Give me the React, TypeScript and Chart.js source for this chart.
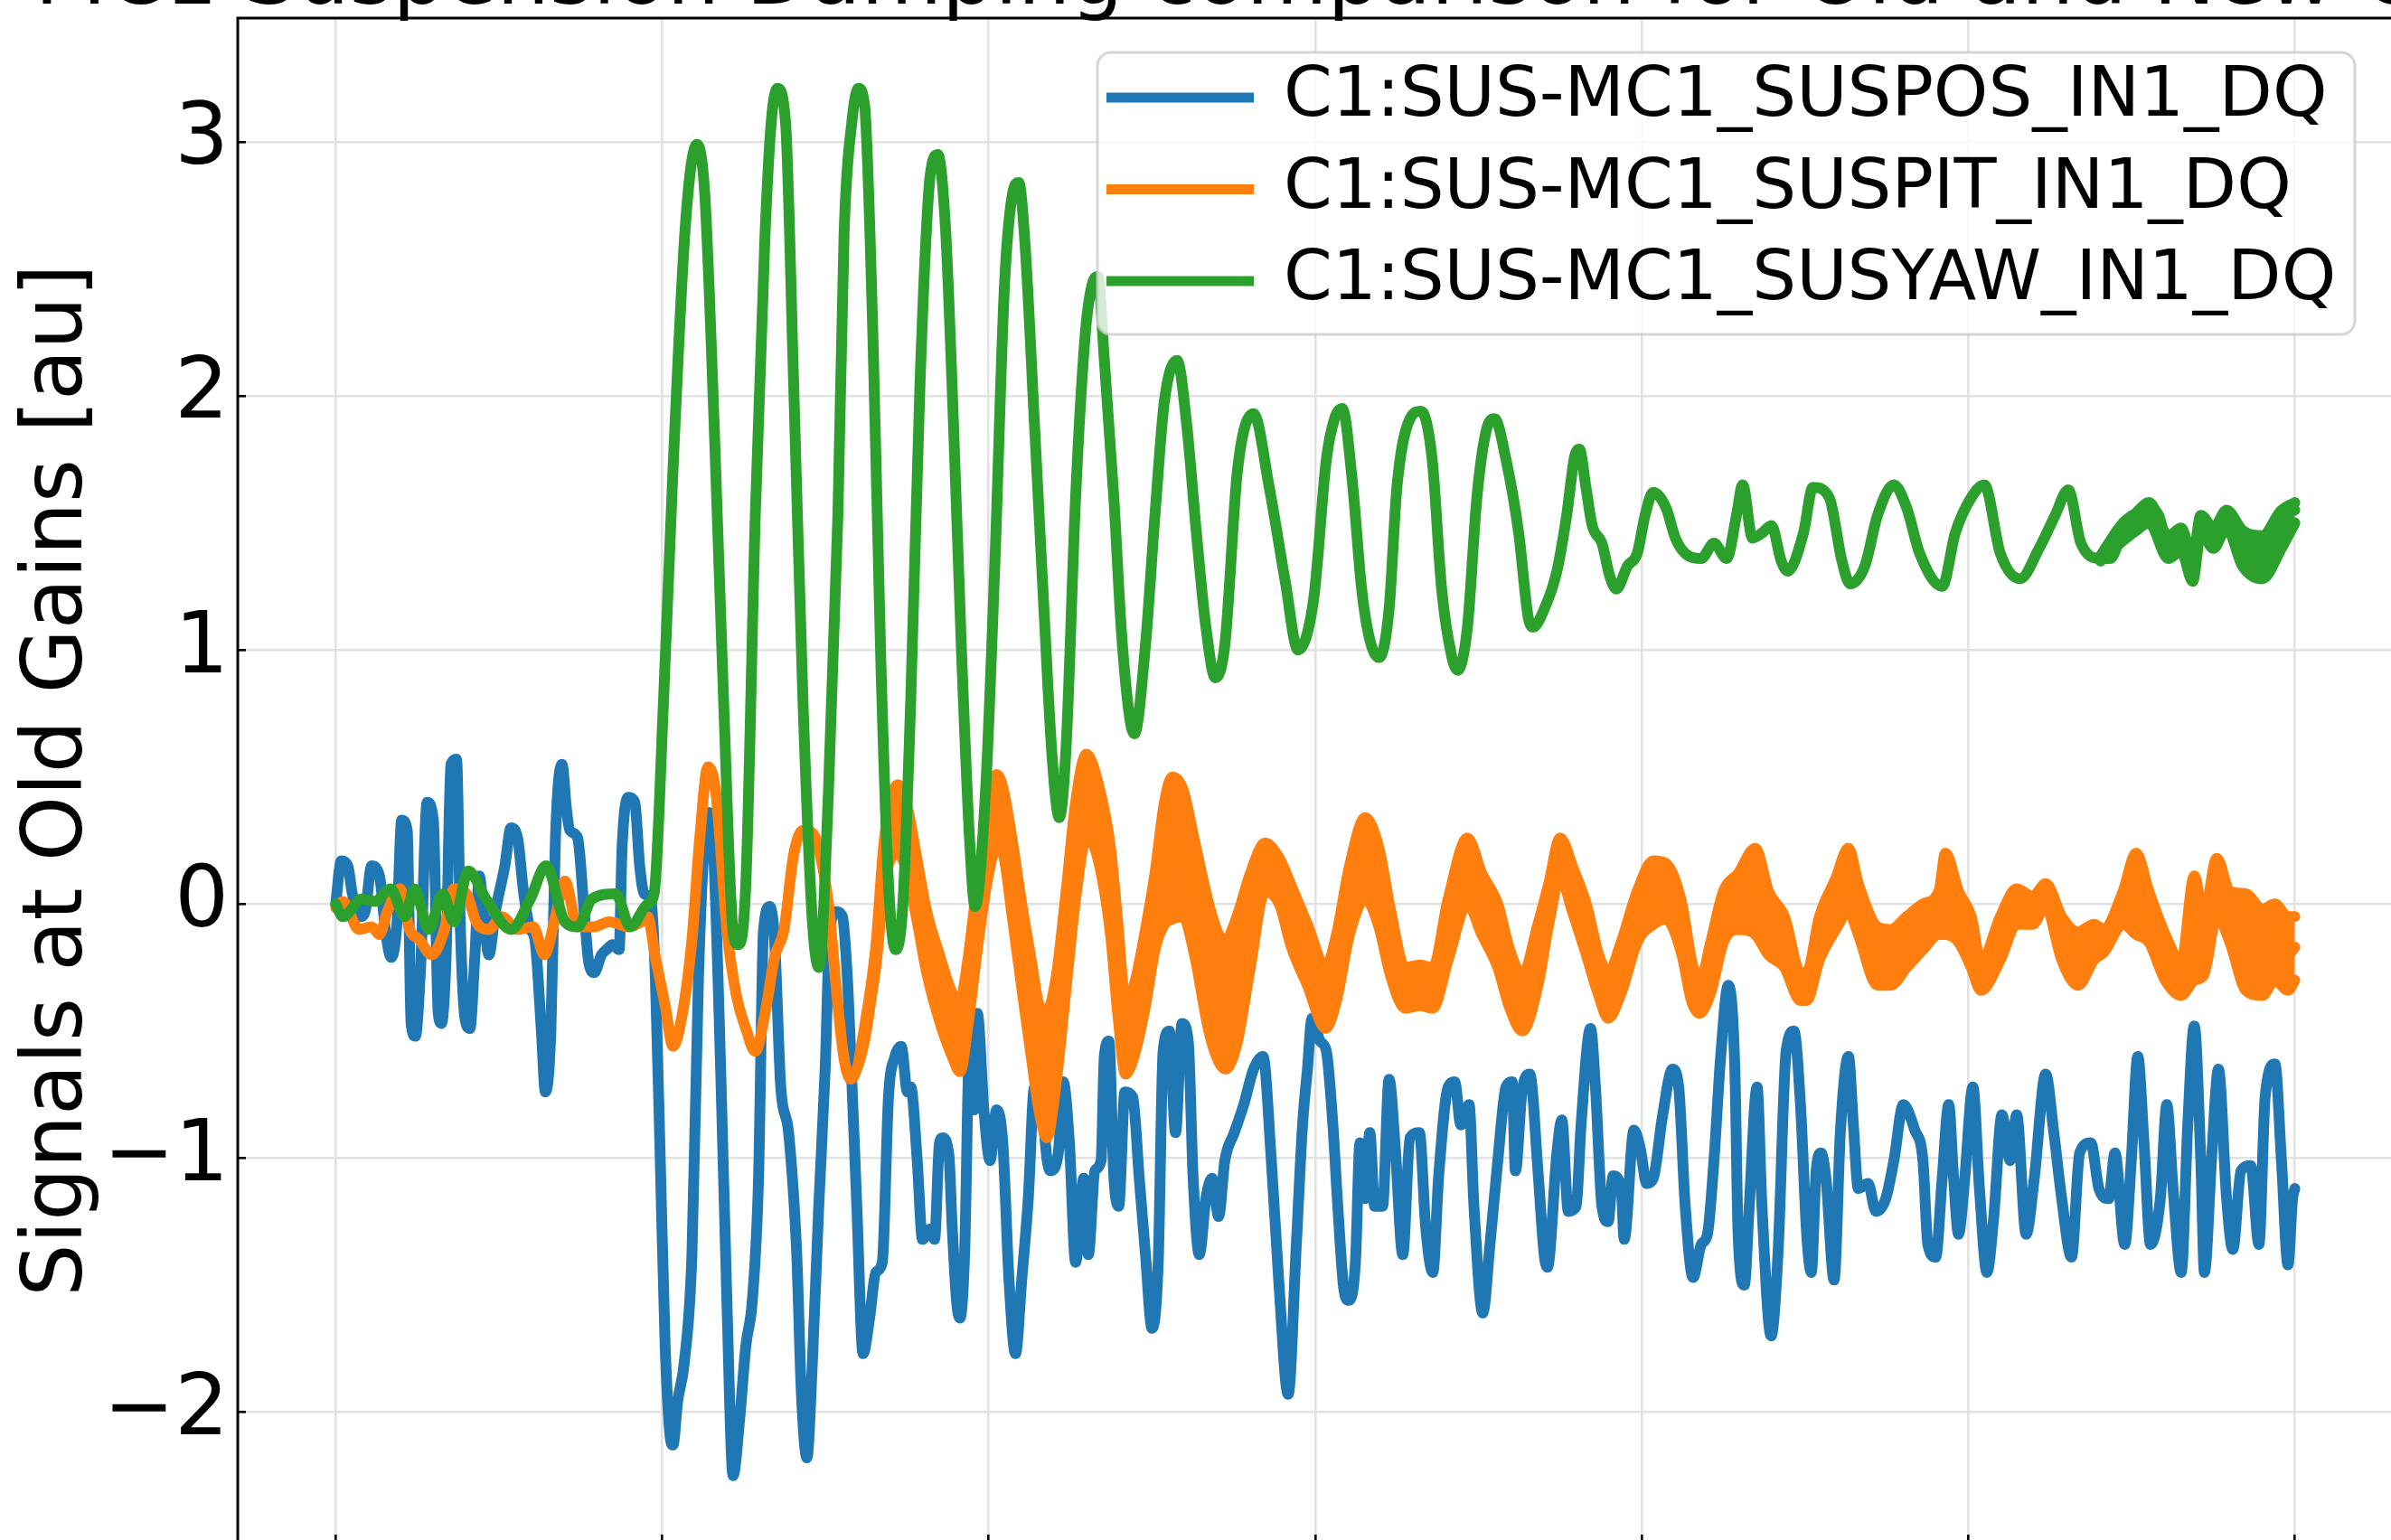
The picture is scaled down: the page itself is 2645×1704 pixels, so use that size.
import { useEffect, useRef } from 'react';
import { Chart, registerables } from 'chart.js';

Chart.register(...registerables);

const FONT = '"DejaVu Sans", "Liberation Sans", sans-serif';
const TITLE = 'MC1 Suspension Damping comparison for Old and New Gains';
const Y_LABEL = 'Signals at Old Gains [au]';
const SERIES_NAMES = ['C1:SUS-MC1_SUSPOS_IN1_DQ', 'C1:SUS-MC1_SUSPIT_IN1_DQ', 'C1:SUS-MC1_SUSYAW_IN1_DQ'];
const SERIES_COLORS = ['#1f77b4', '#ff7f0e', '#2ca02c'];
const X_TICKS = [0, 100, 200, 300, 400, 500, 600];
const Y_TICKS = [-2, -1, 0, 1, 2, 3];
const X_RANGE = [-30, 630];
const Y_RANGE = [-2.514, 3.487];

// [t, value]
const POS: [number, number][] = [
  [0, 0.0], [1.7, 0.17], [3.7, 0.15], [5.1, 0.04], [7.6, -0.05], [9.0, -0.03], [11.0, 0.15], [13.4, 0.11], [15.4, -0.12], [17.0, -0.21], [18.8, -0.07], [20.2, 0.33], [21.9, 0.29], [23.1, -0.47], [24.4, -0.52], [26.0, -0.25], [28.0, 0.4], [29.9, 0.33], [31.4, -0.43], [32.4, -0.47], [33.8, -0.21], [35.3, 0.55], [37.0, 0.57], [38.2, -0.1], [39.6, -0.45], [41.1, -0.49], [42.6, -0.21], [44.0, 0.11], [45.5, -0.07], [46.9, -0.2], [48.9, -0.03], [51.8, 0.15], [53.7, 0.3], [55.7, 0.26], [57.6, 0.04], [59.6, -0.1], [61.0, -0.14], [63.0, -0.5], [64.2, -0.74], [65.9, -0.5], [67.3, 0.26], [69.3, 0.55], [70.7, 0.37], [71.7, 0.29], [74.1, 0.26], [76.1, -0.03], [77.5, -0.23], [79.2, -0.27], [81.4, -0.2], [82.9, -0.18], [84.8, -0.16], [86.8, -0.18], [87.7, 0.22], [89.7, 0.42], [91.6, 0.4], [93.1, 0.15], [94.5, 0.04], [96.5, 0.02],
  [97.9, -0.29], [99.4, -1.01], [100.9, -1.74], [102.3, -2.08], [103.3, -2.13], [104.7, -1.96], [106.7, -1.81], [109.1, -1.38], [111.1, -0.29], [113.0, 0.26], [114.3, 0.36], [115.4, 0.29], [117.9, -0.65], [119.8, -1.56], [121.7, -2.25], [123.7, -2.03], [125.6, -1.74], [127.6, -1.56], [129.5, -1.08], [131.0, -0.11], [132.9, -0.01], [134.4, -0.14], [136.3, -0.72], [138.7, -0.9], [141.2, -1.38], [142.6, -1.92], [144.3, -2.18], [146.0, -1.8], [147.9, -1.2], [149.9, -0.65], [151.3, -0.11], [153.3, -0.03], [155.2, -0.05], [156.7, -0.29], [157.7, -0.58], [159.6, -1.19], [161.5, -1.77], [163.5, -1.63], [165.4, -1.45], [167.4, -1.41], [169.3, -0.76], [171.3, -0.6], [173.2, -0.56], [175.1, -0.74], [176.1, -0.72], [178.1, -1.01], [179.7, -1.32], [182.0, -1.28], [183.4, -1.32], [184.9, -0.94], [185.8, -0.92], [187.8, -0.99], [188.8, -1.27], [190.2, -1.57], [191.2, -1.63], [192.6, -1.38], [194.1, -0.58], [195.6, -0.81], [196.5, -0.43], [198.5, -0.81], [200.4, -1.01], [202.4, -0.81], [204.3, -0.94], [206.2, -1.48], [208.2, -1.77], [210.1, -1.48], [212.1, -1.16], [214.0, -0.72], [216.0, -0.76], [217.9, -1.01], [218.9, -1.05], [221.3, -0.98], [222.8, -0.7], [224.7, -0.94], [226.6, -1.41], [229.1, -1.08], [230.5, -1.38], [232.5, -1.05], [234.4, -1.01], [235.4, -0.6], [236.8, -0.54], [238.3, -1.07], [239.8, -1.19], [241.7, -0.74], [244.1, -0.76], [246.1, -1.08], [248.0, -1.38], [250.0, -1.67], [251.9, -1.41], [253.4, -0.58], [255.3, -0.5], [257.2, -0.9], [259.2, -0.47], [261.1, -0.54], [262.6, -1.08], [264.5, -1.38], [266.5, -1.16], [268.4, -1.08], [270.4, -1.23], [272.3, -1.01], [275.2, -0.9], [278.1, -0.79], [281.1, -0.65], [284.0, -0.6], [286.4, -0.98], [288.8, -1.48], [291.7, -1.93], [294.2, -1.34], [296.1, -0.87], [297.6, -0.65],
  [299.0, -0.45], [301.5, -0.54], [303.4, -0.58], [305.4, -0.87], [306.9, -1.19], [308.8, -1.52], [310.3, -1.56], [312.3, -1.41], [313.7, -0.94], [315.2, -1.16], [316.7, -0.9], [318.2, -1.19], [320.6, -1.19], [322.6, -0.69], [324.5, -0.96], [326.8, -1.38], [329.0, -0.92], [331.9, -0.9], [333.8, -1.27], [336.0, -1.45], [337.8, -1.07], [340.7, -0.72], [342.7, -0.7], [344.6, -0.87], [347.1, -0.79], [348.6, -1.19], [351.3, -1.61], [353.5, -1.34], [355.9, -1.01], [358.4, -0.72], [360.3, -0.7], [361.3, -1.05], [363.3, -0.74], [365.7, -0.67], [368.2, -1.05], [370.1, -1.38], [371.1, -1.43], [374.0, -0.98], [375.5, -0.85], [377.5, -1.21], [379.9, -1.19], [381.4, -0.87], [384.3, -0.49], [385.8, -0.72], [387.8, -1.19], [389.7, -1.25], [391.2, -1.07], [393.7, -1.12], [394.6, -1.32], [397.6, -0.89], [399.5, -0.96], [401.5, -1.1], [403.5, -1.08], [406.4, -0.83], [409.4, -0.65], [411.3, -0.72], [413.3, -1.19], [415.7, -1.47], [418.2, -1.34], [420.1, -1.3], [422.1, -1.01], [424.1, -0.61], [426.5, -0.32], [428.5, -0.65], [429.5, -1.3], [431.4, -1.5], [432.9, -1.19], [435.3, -0.72], [436.8, -1.19], [439.6, -1.7], [441.7, -1.38], [444.2, -0.58], [446.6, -0.5], [448.6, -0.79],
  [450.5, -1.3], [451.9, -1.45], [453.4, -1.05], [454.9, -0.98], [456.4, -1.08], [458.9, -1.48], [460.8, -0.9], [463.3, -0.6], [464.8, -0.87], [466.3, -1.12], [469.3, -1.1], [471.7, -1.21], [474.7, -1.16], [477.2, -1.01], [480.1, -0.79], [483.6, -0.89], [486.1, -1.01], [487.6, -1.34], [490.0, -1.39], [492.0, -1.08], [494.0, -0.79], [495.5, -1.08], [497.0, -1.3], [498.9, -1.08], [501.4, -0.72], [503.4, -1.12], [505.7, -1.45], [507.8, -1.23], [510.3, -0.83], [512.8, -1.01], [514.8, -0.83], [517.7, -1.3], [520.2, -1.08], [523.7, -0.67], [526.1, -0.89], [528.6, -1.16], [531.6, -1.39], [534.1, -0.98], [537.5, -0.94], [540.0, -1.12], [543.0, -1.16], [544.9, -0.98], [547.9, -1.34], [549.9, -1.01], [551.9, -0.6], [553.8, -0.94], [555.8, -1.34], [558.8, -1.16], [560.8, -0.79], [562.7, -1.12], [565.2, -1.45], [567.2, -0.87], [569.2, -0.48], [571.2, -1.01], [572.3, -1.45], [574.6, -0.98], [576.6, -0.65], [579.1, -1.16], [581.0, -1.36], [583.5, -1.05], [586.5, -1.03], [589.0, -1.34], [590.9, -0.76], [593.9, -0.63], [595.9, -1.01], [597.9, -1.42], [599.3, -1.16], [600, -1.12],
];

const PIT: [number, number][] = [
  [0, -0.015], [2.2, 0.01], [7.1, -0.1], [11.0, -0.09], [13.4, -0.12], [15.8, -0.03], [19.7, 0.06], [22.6, -0.1], [25.6, -0.14], [29.4, -0.2], [33.3, -0.1], [36.2, 0.06], [40.1, 0.04], [43.0, -0.07], [46.9, -0.1], [50.8, -0.05], [55.7, -0.1], [60.5, -0.09], [63.9, -0.2], [67.3, -0.05], [70.2, 0.09], [74.1, -0.09], [79.0, -0.09], [83.8, -0.07], [89.7, -0.09], [93.6, -0.07], [95.5, -0.05],
  [97.9, -0.21], [100.9, -0.4], [103.3, -0.56], [106.2, -0.43], [109.1, -0.14], [111.5, 0.26], [114.0, 0.54], [116.4, 0.44], [119.8, -0.1], [122.7, -0.36], [125.6, -0.49], [128.5, -0.58], [131.5, -0.43], [134.4, -0.21], [137.3, -0.1], [140.2, 0.19], [143.1, 0.29], [146.0, 0.28], [147.9, 0.22], [150.9, 0.0], [153.8, -0.4], [155.7, -0.61], [157.7, -0.69], [160.1, -0.63], [162.5, -0.5], [165.4, -0.21], [167.9, 0.15], [170.3, 0.3], [172.2, 0.33], [175.1, 0.25], [178.1, 0.05], [181.0, -0.15], [184.9, -0.33], [188.8, -0.48], [191.2, -0.54], [193.6, -0.35], [196.5, -0.05], [199.4, 0.2], [202.4, 0.37], [204.3, 0.33], [207.2, 0.1], [210.1, -0.16], [213.0, -0.4], [215.5, -0.6], [217.8, -0.67], [220.5, -0.5], [223.7, -0.14], [226.6, 0.2], [229.9, 0.43], [233.4, 0.33], [237.3, 0.05], [239.5, -0.25], [241.9, -0.53], [244.5, -0.45], [248.0, -0.25], [250.9, -0.03], [253.8, 0.15], [256.2, 0.22], [259.5, 0.2], [263.0, 0.02], [267.4, -0.25], [270.4, -0.36], [272.6, -0.4], [276.0, -0.3], [280.1, -0.05], [284.6, 0.15], [289.0, 0.09], [292.7, -0.05], [297.6, -0.2],
  [303.2, -0.37], [306.5, -0.25], [310.5, 0.0], [315.3, 0.18], [319.5, 0.08], [323.0, -0.15], [327.5, -0.33], [332.0, -0.32], [336.0, -0.33], [340.7, -0.1], [346.6, 0.12], [351.0, 0.0], [355.9, -0.13], [359.3, -0.28], [363.4, -0.39], [368.2, -0.2], [371.5, 0.0], [375.0, 0.18], [379.0, 0.05], [383.0, -0.1], [386.8, -0.28], [389.7, -0.36], [393.7, -0.25], [398.6, -0.05], [403.5, 0.05], [407.4, 0.05], [412.3, -0.1], [415.2, -0.3], [417.7, -0.37], [421.1, -0.25], [425.0, -0.05], [429.5, 0.0], [434.8, 0.05], [438.8, -0.08], [443.7, -0.15], [448.6, -0.33],
  [450.5, -0.33], [454.4, -0.14], [459.4, 0.0], [463.3, 0.1], [466.3, -0.03], [472.2, -0.2], [476.2, -0.22], [481.1, -0.14], [486.1, -0.09], [491.0, -0.03], [493.0, 0.04], [497.0, -0.05], [500.9, -0.14], [503.9, -0.3], [509.8, -0.14], [514.8, 0.0], [519.7, -0.03], [523.7, 0.04], [528.6, -0.14], [533.6, -0.22], [538.5, -0.14], [541.5, -0.15], [547.4, 0.0], [551.4, 0.04], [555.3, -0.05], [560.3, -0.21], [565.2, -0.3], [569.2, -0.1], [572.1, -0.2], [576.1, 0.07], [580.1, -0.05], [585.0, -0.15], [590.0, -0.19], [593.9, -0.12], [597.9, -0.2], [600, -0.17],
];

// [t, upper, lower] of the dense fast-oscillation band of the PIT trace
const PIT_BAND: [number, number, number][] = [
  [160.1, -0.63, -0.63], [165.4, -0.17, -0.25], [168.0, 0.25, 0.08], [172.2, 0.47, 0.2], [175.1, 0.38, 0.12], [178.1, 0.17, -0.07], [181.0, -0.03, -0.27], [184.9, -0.2, -0.46], [188.8, -0.35, -0.6], [191.2, -0.38, -0.66], [193.6, -0.22, -0.48], [196.5, 0.08, -0.18], [199.4, 0.32, 0.08], [202.4, 0.51, 0.22], [204.3, 0.46, 0.2], [207.2, 0.25, -0.05], [210.1, 0.0, -0.33], [213.0, -0.22, -0.6], [215.5, -0.4, -0.82], [217.8, -0.42, -0.92], [220.5, -0.3, -0.72], [223.7, 0.05, -0.33], [226.6, 0.4, 0.02], [229.9, 0.59, 0.26], [233.4, 0.48, 0.18], [237.3, 0.22, -0.12], [239.5, -0.07, -0.43], [241.9, -0.38, -0.67], [244.5, -0.32, -0.6], [248.0, -0.1, -0.4], [250.9, 0.12, -0.18], [253.8, 0.4, -0.08], [256.2, 0.5, -0.06], [259.5, 0.45, -0.05], [263.0, 0.25, -0.2], [267.4, 0.0, -0.5], [270.4, -0.12, -0.62], [272.6, -0.14, -0.65], [276.0, -0.05, -0.55], [280.1, 0.12, -0.25], [284.6, 0.24, 0.05], [289.0, 0.18, 0.0], [292.7, 0.07, -0.17], [297.6, -0.08, -0.32],
  [303.2, -0.25, -0.49], [306.5, -0.12, -0.38], [310.5, 0.15, -0.12], [315.3, 0.34, 0.02], [319.5, 0.22, -0.09], [323.0, -0.02, -0.28], [327.5, -0.25, -0.41], [332.0, -0.24, -0.4], [336.0, -0.25, -0.41], [340.7, 0.02, -0.22], [346.6, 0.26, 0.0], [351.0, 0.12, -0.12], [355.9, 0.0, -0.25], [359.3, -0.17, -0.4], [363.4, -0.28, -0.5], [368.2, -0.08, -0.32], [371.5, 0.08, -0.08], [375.0, 0.26, 0.1], [379.0, 0.14, -0.04], [383.0, 0.0, -0.2], [386.8, -0.2, -0.36], [389.7, -0.27, -0.45], [393.7, -0.15, -0.35], [398.6, 0.05, -0.15], [403.5, 0.17, -0.08], [407.4, 0.16, -0.06], [412.3, 0.0, -0.2], [415.2, -0.22, -0.38], [417.7, -0.31, -0.43], [421.1, -0.15, -0.35], [425.0, 0.05, -0.15], [429.5, 0.12, -0.1], [434.8, 0.22, -0.12], [438.8, 0.05, -0.2], [443.7, -0.05, -0.25], [448.6, -0.27, -0.38],
  [450.5, -0.27, -0.38], [454.4, -0.05, -0.22], [459.4, 0.1, -0.1], [463.3, 0.22, -0.03], [466.3, 0.08, -0.12], [472.2, -0.09, -0.32], [476.2, -0.1, -0.32], [481.1, -0.05, -0.25], [486.1, 0.0, -0.18], [491.0, 0.05, -0.12], [493.0, 0.2, -0.12], [497.0, 0.05, -0.15], [500.9, -0.05, -0.25], [503.9, -0.23, -0.34], [509.8, -0.05, -0.22], [514.8, 0.06, -0.08], [519.7, 0.03, -0.08], [523.7, 0.08, -0.01], [528.6, -0.05, -0.22], [533.6, -0.11, -0.32], [538.5, -0.08, -0.22], [541.5, -0.1, -0.19], [547.4, 0.05, -0.08], [551.4, 0.2, -0.12], [555.3, 0.05, -0.15], [560.3, -0.12, -0.3], [565.2, -0.23, -0.36], [569.2, 0.11, -0.3], [572.1, -0.05, -0.28], [576.1, 0.18, -0.05], [580.1, 0.05, -0.15], [585.0, 0.04, -0.34], [590.0, -0.02, -0.36], [593.9, 0.0, -0.3], [597.9, -0.05, -0.34], [600, -0.05, -0.3],
];

const YAW: [number, number][] = [
  [0, 0.0], [2.2, -0.05], [8.1, 0.02], [12.0, 0.01], [16.8, 0.06], [21.2, -0.05], [24.1, 0.06], [28.5, -0.1], [32.8, 0.04], [36.2, -0.07], [40.6, 0.13], [46.0, 0.02], [53.7, -0.1], [59.6, 0.02], [64.4, 0.15], [70.2, -0.07], [74.1, -0.09], [78.5, 0.02], [85.8, 0.04], [90.2, -0.09], [95.5, 0.0], [97.5, 0.04],
  [100.4, 0.8], [103.3, 1.71], [107.2, 2.69], [110.6, 2.99], [113.0, 2.8], [115.9, 1.89], [118.8, 0.8], [121.7, -0.11], [123.2, -0.16], [125.6, 0.08], [128.5, 1.53], [131.5, 2.64], [133.4, 3.08], [135.3, 3.21], [137.8, 3.07], [140.2, 2.07], [143.1, 0.8], [146.0, -0.07], [148.0, -0.25],
  [150.9, 0.44], [153.8, 1.53], [155.7, 2.64], [158.1, 3.08], [160.1, 3.21], [162.0, 3.14], [164.5, 2.25], [166.9, 0.98], [169.3, 0.08], [171.5, -0.18], [173.7, 0.0], [176.1, 0.8], [179.0, 2.07], [182.0, 2.86], [184.4, 2.95], [186.8, 2.65], [189.2, 1.89], [191.7, 0.98], [194.1, 0.26], [195.8, -0.01], [199.0, 0.44], [201.9, 1.35], [204.8, 2.43], [207.2, 2.79], [209.2, 2.84], [211.1, 2.6], [214.0, 1.89], [216.9, 1.16], [219.4, 0.58], [221.6, 0.34], [223.7, 0.62], [226.6, 1.6], [229.6, 2.25], [231.5, 2.43], [233.4, 2.47], [235.4, 2.14], [238.3, 1.6], [240.7, 1.06], [243.2, 0.73], [244.6, 0.67], [248.0, 1.02], [250.9, 1.53], [253.8, 1.98], [257.7, 2.14], [260.6, 1.89], [263.6, 1.46], [266.5, 1.09], [269.4, 0.89], [272.3, 1.02], [276.2, 1.71], [281.1, 1.93], [285.9, 1.64], [290.8, 1.27], [294.7, 1.0],
  [299.5, 1.2], [303.4, 1.75], [305.9, 1.91], [308.3, 1.95], [311.3, 1.67], [314.2, 1.24], [316.7, 1.04], [319.6, 0.97], [322.6, 1.16], [325.0, 1.64], [329.0, 1.91], [332.4, 1.94], [335.8, 1.75], [338.7, 1.24], [341.7, 0.98], [343.6, 0.92], [346.6, 1.09], [349.5, 1.6], [352.5, 1.87], [354.9, 1.91], [358.4, 1.75], [362.3, 1.46], [365.2, 1.13], [366.7, 1.09], [370.1, 1.16], [374.0, 1.31], [377.0, 1.53], [379.4, 1.76], [380.9, 1.79], [382.9, 1.64], [384.8, 1.49], [387.8, 1.42], [390.2, 1.29], [392.2, 1.24], [395.6, 1.33], [398.6, 1.38], [401.0, 1.53], [403.5, 1.62], [407.4, 1.56], [410.3, 1.44], [413.3, 1.38], [418.2, 1.36], [422.1, 1.42], [426.0, 1.36], [429.0, 1.53], [430.9, 1.65], [433.9, 1.44], [436.8, 1.46], [439.7, 1.49], [442.7, 1.35], [444.7, 1.31],
  [449.5, 1.46], [452.4, 1.64], [457.4, 1.6], [461.3, 1.35], [463.8, 1.26], [468.3, 1.33], [472.2, 1.53], [477.2, 1.65], [481.1, 1.56], [485.1, 1.38], [492.0, 1.25], [496.0, 1.46], [500.9, 1.6], [504.9, 1.65], [509.8, 1.38], [515.8, 1.28], [521.7, 1.4], [526.6, 1.53], [530.6, 1.63], [534.5, 1.42], [540.5, 1.36], [543.5, 1.36], [547.4, 1.47], [551.4, 1.51], [555.3, 1.56], [558.3, 1.53], [561.3, 1.4], [565.2, 1.44], [568.7, 1.31], [571.2, 1.51], [575.1, 1.44], [579.1, 1.53], [584.0, 1.4], [590.0, 1.36], [595.9, 1.53], [600, 1.55],
];

// [t, upper, lower] of the dense band at the end of the YAW trace
const YAW_BAND: [number, number, number][] = [
  [540.5, 1.37, 1.35], [547.4, 1.5, 1.43], [551.4, 1.54, 1.47], [555.3, 1.58, 1.5], [561.3, 1.45, 1.36], [565.2, 1.48, 1.39], [568.7, 1.36, 1.27], [571.2, 1.53, 1.46], [575.1, 1.48, 1.4], [579.1, 1.55, 1.48], [584.0, 1.47, 1.33], [590.0, 1.45, 1.28], [595.9, 1.55, 1.4], [600, 1.58, 1.5],
];

const CW = 2700;
const CH = 1900;

const fmtTick = (v: number) => (v < 0 ? '\u2212' + Math.abs(v) : String(v));

const overlayPlugin = {
  id: 'overlay',
  afterDatasetsDraw(chart: any) {
    const { ctx, chartArea: ca } = chart;
    ctx.save();
    // axes frame (spines)
    ctx.strokeStyle = '#000';
    ctx.lineWidth = 3;
    ctx.strokeRect(ca.left, ca.top, ca.right - ca.left, ca.bottom - ca.top);
    // title
    ctx.fillStyle = '#000';
    ctx.font = `92px ${FONT}`;
    ctx.textAlign = 'center';
    ctx.textBaseline = 'alphabetic';
    ctx.fillText(TITLE, (ca.left + ca.right) / 2, ca.top - 16);
    // legend
    const w = 1391, h = 312, r = 15;
    const x0 = ca.right - 42 - w;
    const y0 = ca.top + 38;
    ctx.beginPath();
    ctx.moveTo(x0 + r, y0);
    ctx.lineTo(x0 + w - r, y0);
    ctx.arcTo(x0 + w, y0, x0 + w, y0 + r, r);
    ctx.lineTo(x0 + w, y0 + h - r);
    ctx.arcTo(x0 + w, y0 + h, x0 + w - r, y0 + h, r);
    ctx.lineTo(x0 + r, y0 + h);
    ctx.arcTo(x0, y0 + h, x0, y0 + h - r, r);
    ctx.lineTo(x0, y0 + r);
    ctx.arcTo(x0, y0, x0 + r, y0, r);
    ctx.closePath();
    ctx.fillStyle = 'rgba(255,255,255,0.8)';
    ctx.fill();
    ctx.lineWidth = 3;
    ctx.strokeStyle = 'rgba(204,204,204,0.8)';
    ctx.stroke();
    ctx.font = `77px ${FONT}`;
    ctx.textAlign = 'left';
    ctx.textBaseline = 'middle';
    SERIES_NAMES.forEach((name, i) => {
      const cy = y0 + 50 + i * 101.5;
      ctx.beginPath();
      ctx.moveTo(x0 + 10, cy);
      ctx.lineTo(x0 + 173, cy);
      ctx.strokeStyle = SERIES_COLORS[i];
      ctx.lineWidth = 11;
      ctx.lineCap = 'butt';
      ctx.stroke();
      ctx.fillStyle = '#000';
      ctx.fillText(name, x0 + 206, cy);
    });
    ctx.restore();
  },
};

export default function App() {
  const ref = useRef<HTMLCanvasElement>(null);

  useEffect(() => {
    const canvas = ref.current;
    if (!canvas) return;
    const line = {
      pointRadius: 0,
      pointHoverRadius: 0,
      borderWidth: 12,
      cubicInterpolationMode: 'monotone',
      borderJoinStyle: 'round',
      borderCapStyle: 'round',
      fill: false,
    };
    const pts = (arr: [number, number][]) => arr.map(([x, y]) => ({ x, y }));
    const grid = {
      color: '#e2e2e2',
      lineWidth: 2.6,
      drawTicks: true,
      tickLength: -9,
      tickColor: '#000',
      tickWidth: 2.6,
    };
    const chart = new Chart(canvas, {
      type: 'line',
      data: {
        datasets: [
          { ...line, label: SERIES_NAMES[0], data: pts(POS), borderColor: SERIES_COLORS[0], backgroundColor: SERIES_COLORS[0], order: 4 },
          { ...line, label: SERIES_NAMES[1], data: pts(PIT), borderColor: SERIES_COLORS[1], backgroundColor: SERIES_COLORS[1], order: 2 },
          { ...line, label: 'PIT band upper', data: PIT_BAND.map(([x, u]) => ({ x, y: u })), borderColor: SERIES_COLORS[1], backgroundColor: SERIES_COLORS[1], fill: '+1', order: 3 },
          { ...line, label: 'PIT band lower', data: PIT_BAND.map(([x, , l]) => ({ x, y: l })), borderColor: SERIES_COLORS[1], backgroundColor: SERIES_COLORS[1], order: 3 },
          { ...line, label: SERIES_NAMES[2], data: pts(YAW), borderColor: SERIES_COLORS[2], backgroundColor: SERIES_COLORS[2], order: 0 },
          { ...line, label: 'YAW band upper', data: YAW_BAND.map(([x, u]) => ({ x, y: u })), borderColor: SERIES_COLORS[2], backgroundColor: SERIES_COLORS[2], fill: '+1', order: 1 },
          { ...line, label: 'YAW band lower', data: YAW_BAND.map(([x, , l]) => ({ x, y: l })), borderColor: SERIES_COLORS[2], backgroundColor: SERIES_COLORS[2], order: 1 },
        ] as any,
      },
      options: {
        responsive: false,
        maintainAspectRatio: false,
        devicePixelRatio: 1,
        animation: false,
        events: [],
        layout: { padding: { top: 120, right: CW - 2647, bottom: 0, left: 0 } },
        plugins: {
          legend: { display: false },
          title: { display: false },
          tooltip: { enabled: false },
        },
        scales: {
          x: {
            type: 'linear',
            min: X_RANGE[0],
            max: X_RANGE[1],
            afterFit: (s: any) => { s.height = CH - 1807; },
            afterBuildTicks: (s: any) => { s.ticks = X_TICKS.map((v) => ({ value: v })); },
            ticks: { font: { size: 92, family: FONT }, color: '#000', padding: 24, maxRotation: 0, autoSkip: false, callback: (v: any) => fmtTick(Number(v)) },
            grid,
            border: { display: false },
          },
          y: {
            type: 'linear',
            min: Y_RANGE[0],
            max: Y_RANGE[1],
            afterFit: (s: any) => { s.width = 263; },
            afterBuildTicks: (s: any) => { s.ticks = Y_TICKS.map((v) => ({ value: v })); },
            ticks: { font: { size: 94, family: FONT }, color: '#000', padding: 19, callback: (v: any) => fmtTick(Number(v)) },
            grid,
            border: { display: false },
            title: { display: true, text: Y_LABEL, font: { size: 92, family: FONT }, color: '#000', padding: { top: 11, bottom: 0 } },
          },
        },
      } as any,
      plugins: [overlayPlugin],
    });
    return () => chart.destroy();
  }, []);

  return (
    <div style={{ position: 'fixed', left: 0, top: 0, width: 2645, height: 1704, overflow: 'hidden', background: '#ffffff' }}>
      <canvas ref={ref} width={CW} height={CH} style={{ position: 'absolute', left: 0, top: -100, width: CW, height: CH }} />
    </div>
  );
}
